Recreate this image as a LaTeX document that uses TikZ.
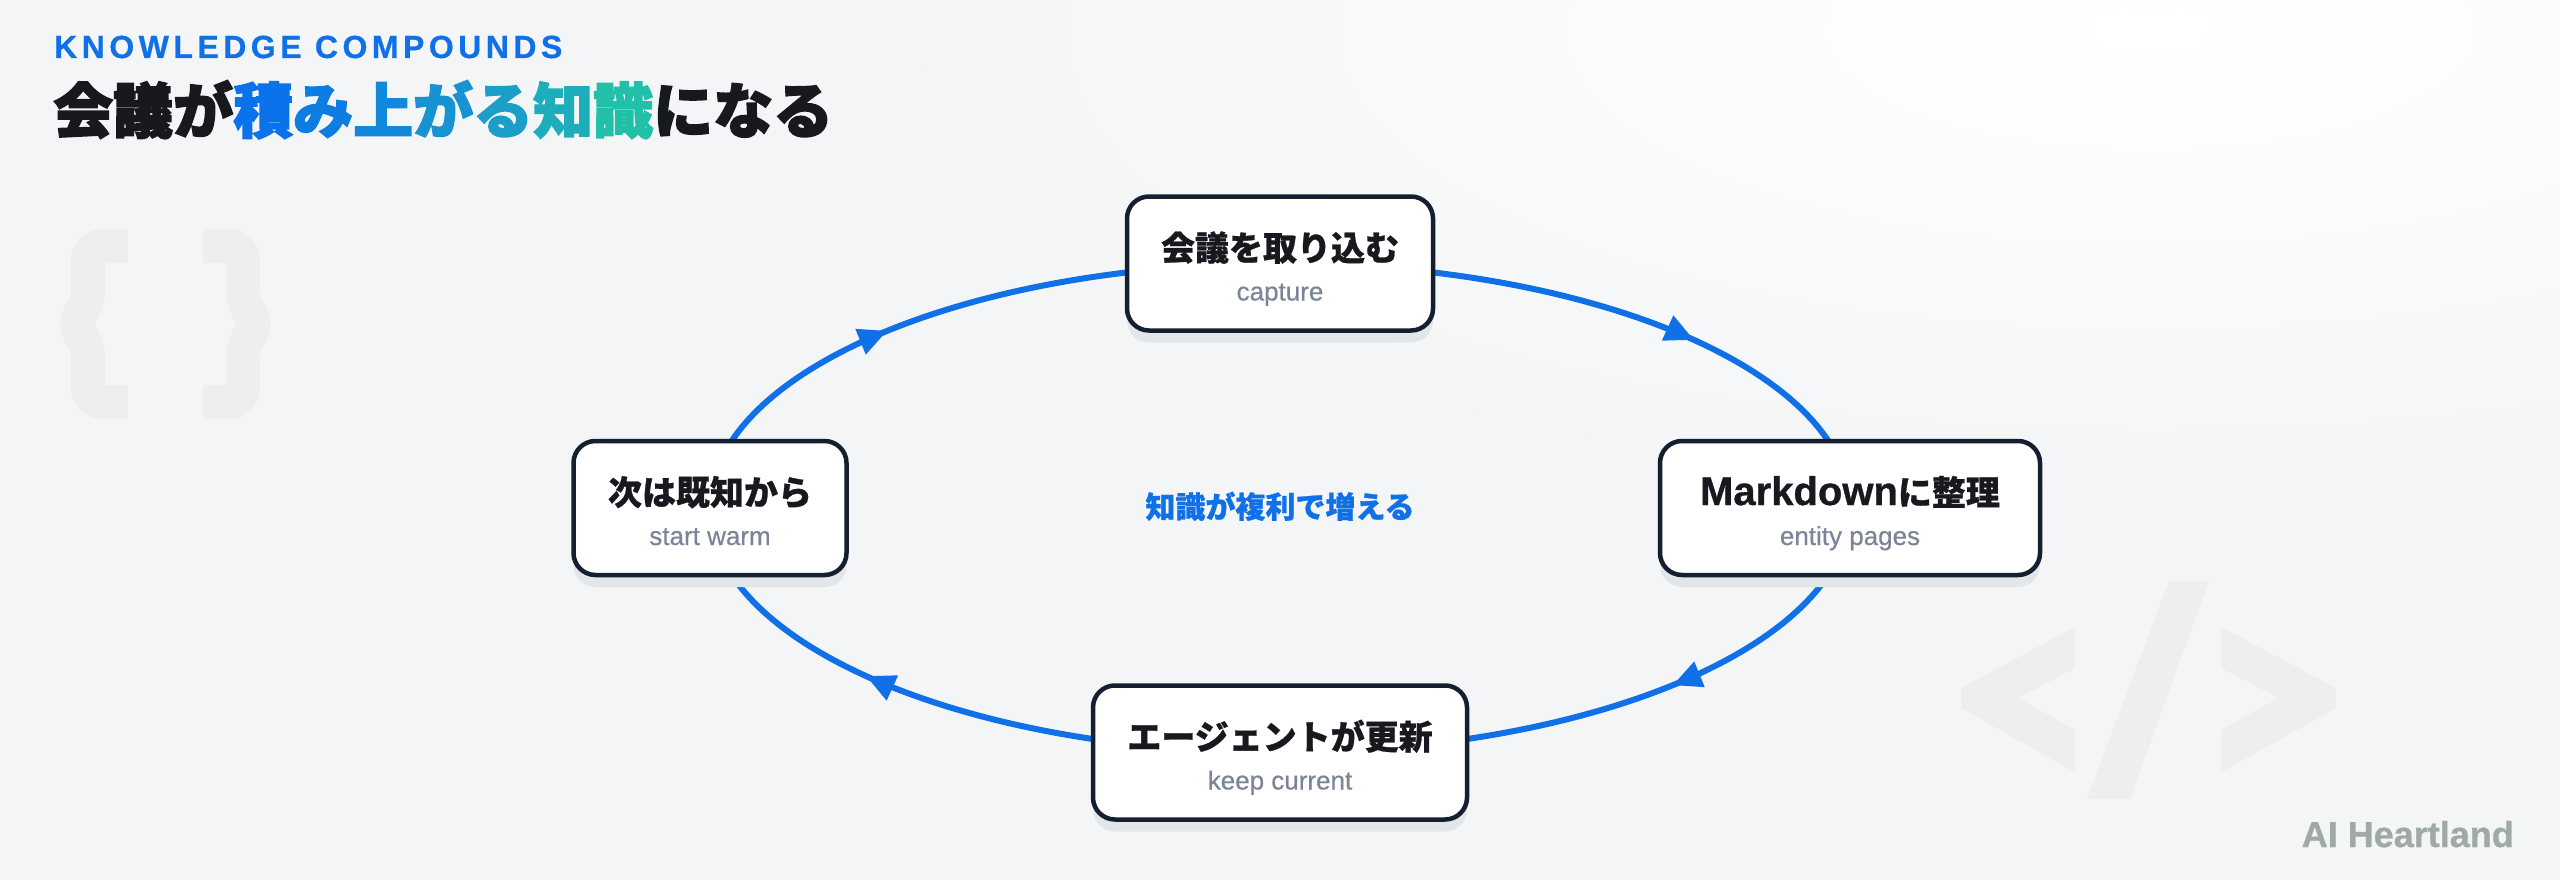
\documentclass[tikz,border=0pt]{standalone}
\usepackage{fontspec}
\setmainfont{Noto Sans CJK JP}
\newfontfamily\jph{Noto Sans CJK JP}[BoldFeatures={FakeBold=2.5}]
\newfontfamily\jpn{Noto Sans CJK JP}[BoldFeatures={FakeBold=0.8}]
\newfontfamily\lat{Liberation Sans}[UprightFeatures={FakeBold=0.5}, BoldFeatures={FakeBold=0.8}]
\newfontfamily\latsp{Liberation Sans}[LetterSpace=14, BoldFeatures={FakeBold=0.6}]
\usetikzlibrary{arrows.meta,decorations.markings,shadows}
\definecolor{bgc}{HTML}{F3F5F6}
\definecolor{wm}{HTML}{ECEEEF}
\definecolor{ink}{HTML}{17191E}
\definecolor{navy}{HTML}{142030}
\definecolor{subc}{HTML}{7C8597}
\definecolor{flowc}{HTML}{0F70E8}
\definecolor{shadc}{HTML}{E3E6E9}
\definecolor{brandc}{HTML}{9FAAA7}
\definecolor{ga}{HTML}{0A72EA}
\definecolor{gb}{HTML}{0E7DE3}
\definecolor{gc}{HTML}{1388DA}
\definecolor{gd}{HTML}{1793D2}
\definecolor{ge}{HTML}{1B9FC8}
\definecolor{gf}{HTML}{1EADBA}
\definecolor{gg}{HTML}{22BFA9}
\pgfdeclarelayer{bglayer}
\pgfsetlayers{bglayer,main}
\tikzset{
  stepbox/.style={draw=navy, line width=4.5pt, fill=white, rounded corners=22pt,
    minimum height=134pt, inner sep=0pt,
    drop shadow={fill=shadc, opacity=1, shadow xshift=0pt, shadow yshift=-12pt}},
  mainlbl/.style={font=\jpn\bfseries\fontsize{34}{34}\selectfont, text=ink, anchor=base, inner sep=0pt},
  sublbl/.style={font=\lat\fontsize{26}{26}\selectfont, text=subc, anchor=base, inner sep=0pt},
  flow/.style={draw=flowc, line width=6pt},
  flowmark/.style={decoration={markings, mark=at position #1 with {\arrow{Triangle[length=29pt,width=26pt]}}},
    postaction={decorate}},
  wmark/.style={draw=wm, line width=34pt, rounded corners=14pt},
}
\begin{document}
\begin{tikzpicture}[x=1pt,y=1pt]
\useasboundingbox (0,0) rectangle (2560,-880);
\begin{pgfonlayer}{bglayer}
\fill[bgc] (0,0) rectangle (2560,-880);
\shade[inner color=white, outer color=bgc] (2150,-30) ellipse [x radius=1300, y radius=480];
% braces watermark
\draw[wmark] (128,-246) -- (88,-246) -- (88,-305) -- (72,-324) -- (88,-343) -- (88,-402) -- (128,-402);
\draw[wmark] (203,-246) -- (243,-246) -- (243,-305) -- (259,-324) -- (243,-343) -- (243,-402) -- (203,-402);
% </> watermark
\fill[wm] (2075,-627) -- (1961,-688) -- (1961,-708) -- (2075,-772) -- (2075,-730) -- (2018,-698) -- (2075,-668) -- cycle;
\fill[wm] (2169,-581) -- (2209,-581) -- (2130,-799) -- (2087,-799) -- cycle;
\fill[wm] (2221,-627) -- (2336,-688) -- (2336,-708) -- (2221,-772) -- (2221,-730) -- (2279,-698) -- (2221,-668) -- cycle;
\end{pgfonlayer}

% title
\node[anchor=base west, inner sep=0pt, font=\latsp\bfseries\fontsize{32}{32}\selectfont, text=flowc] (kicker) at (54,-58) {KNOWLEDGE COMPOUNDS};
\node[anchor=base west, inner sep=0pt, font=\jph\bfseries\fontsize{60}{60}\selectfont] (title) at (53,-133)
  {\textcolor{ink}{会議が}\textcolor{ga}{積}\textcolor{gb}{み}\textcolor{gc}{上}\textcolor{gd}{が}\textcolor{ge}{る}\textcolor{gf}{知}\textcolor{gg}{識}\textcolor{ink}{になる}};

% steps
\node[stepbox, minimum width=306pt] (cap) at (1280,-263.5) {};
\node[stepbox, minimum width=380pt] (md) at (1850,-508) {};
\node[stepbox, minimum width=374pt] (agent) at (1280,-752.5) {};
\node[stepbox, minimum width=273pt] (warm) at (710,-508) {};

\node[mainlbl] (capT) at ([yshift=3pt]cap.center) {会議を取り込む};
\node[sublbl] (capS) at ([yshift=-37pt]cap.center) {capture};
\node[mainlbl] (mdT) at ([yshift=3pt]md.center) {{\lat\bfseries\fontsize{40}{40}\selectfont Markdown}に整理};
\node[sublbl] (mdS) at ([yshift=-37pt]md.center) {entity pages};
\node[mainlbl] (agentT) at ([yshift=3pt]agent.center) {エージェントが更新};
\node[sublbl] (agentS) at ([yshift=-37pt]agent.center) {keep current};
\node[mainlbl] (warmT) at ([yshift=3pt]warm.center) {次は既知から};
\node[sublbl] (warmS) at ([yshift=-37pt]warm.center) {start warm};

\node[anchor=base, inner sep=0pt, font=\jpn\bfseries\fontsize{30}{30}\selectfont, text=flowc] (hub) at (1280,-518) {知識が複利で増える};

% cycle connectors
\begin{pgfonlayer}{bglayer}
\draw[flow, flowmark=0.637] (cap.center) .. controls +(314.8,0) and +(0,135) .. (md.center);
\draw[flow, flowmark=0.398] (md.center) .. controls +(0,-135) and +(314.8,0) .. (agent.center);
\draw[flow, flowmark=0.637] (agent.center) .. controls +(-314.8,0) and +(0,-135) .. (warm.center);
\draw[flow, flowmark=0.398] (warm.center) .. controls +(0,135) and +(-314.8,0) .. (cap.center);
\end{pgfonlayer}

\node[anchor=base east, inner sep=0pt, font=\lat\bfseries\fontsize{36}{36}\selectfont, text=brandc] (brand) at (2514,-847) {AI Heartland};
\end{tikzpicture}
\end{document}
